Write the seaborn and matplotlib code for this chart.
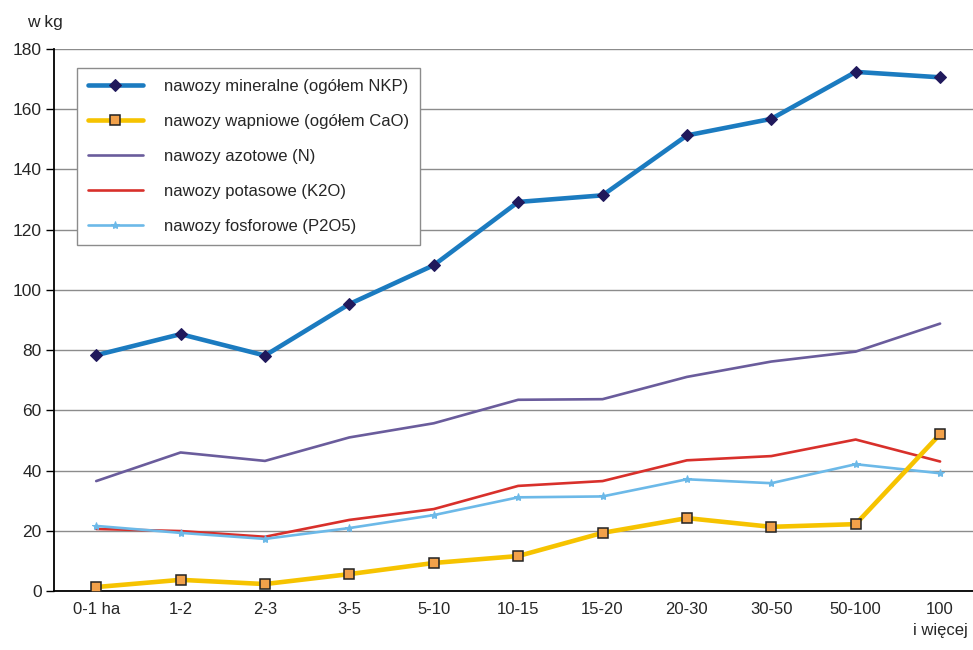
import numpy as np
import pandas as pd
import matplotlib
matplotlib.use('Agg')
import matplotlib.pyplot as plt
import seaborn as sns
from matplotlib.ticker import MultipleLocator, FixedLocator

categories = ['0-1 ha', '1-2', '2-3', '3-5', '5-10', '10-15', '15-20',
              '20-30', '30-50', '50-100', '100\ni więcej']

nkp = [78.3, 85.3, 78.2, 95.3, 108.2, 129.2, 131.4, 151.3, 156.8, 172.4, 170.6]
cao = [1.3, 3.7, 2.3, 5.6, 9.3, 11.6, 19.3, 24.2, 21.3, 22.2, 52.1]
azot = [36.5, 46.0, 43.2, 51.0, 55.7, 63.5, 63.7, 71.1, 76.2, 79.5, 88.8]
potas = [20.6, 19.9, 18.0, 23.6, 27.2, 34.9, 36.5, 43.4, 44.8, 50.3, 43.0]
fosfor = [21.6, 19.3, 17.3, 20.9, 25.2, 31.1, 31.4, 37.1, 35.8, 42.1, 39.1]

series_names = ['nawozy mineralne (ogółem NKP)', 'nawozy wapniowe (ogółem CaO)',
                'nawozy azotowe (N)', 'nawozy potasowe (K2O)', 'nawozy fosforowe (P2O5)']

sns.set_style('white')
plt.rcParams['font.family'] = ['Liberation Sans', 'DejaVu Sans']

x = np.arange(len(categories))

fig = plt.figure(figsize=(9.73, 6.5), dpi=100)
ax = fig.add_axes([0.0555, 0.0908, 0.9445, 0.8338])

ax.yaxis.grid(True, color='#8c8c8c', linewidth=1)
ax.set_axisbelow(True)

sns.lineplot(x=x, y=nkp, ax=ax, color='#1b7bc0', linewidth=3.3, marker='D',
             markersize=6.5, markerfacecolor='#20195c', markeredgecolor='#20195c',
             label=series_names[0], zorder=5)
sns.lineplot(x=x, y=cao, ax=ax, color='#f6c300', linewidth=3.3, marker='s',
             markersize=7.5, markerfacecolor='#f2a14a', markeredgecolor='#222222',
             markeredgewidth=1.1, label=series_names[1], zorder=5)
sns.lineplot(x=x, y=azot, ax=ax, color='#6a5c9c', linewidth=1.9,
             label=series_names[2], zorder=4)
sns.lineplot(x=x, y=potas, ax=ax, color='#d8302b', linewidth=1.9,
             label=series_names[3], zorder=4)
sns.lineplot(x=x, y=fosfor, ax=ax, color='#6cb9e8', linewidth=1.9, marker='*',
             markersize=6, markeredgecolor='#6cb9e8', markerfacecolor='#6cb9e8',
             label=series_names[4], zorder=4)

ax.set_ylim(0, 180)
ax.set_xlim(-0.5, 10.39)
ax.yaxis.set_major_locator(MultipleLocator(20))
ax.set_xticks(x)
ax.set_xticklabels(categories, fontsize=12, linespacing=1.5)
ax.xaxis.set_minor_locator(FixedLocator(np.arange(-0.5, 11, 1)))
ax.tick_params(axis='x', which='major', length=0, pad=8)
ax.tick_params(axis='x', which='minor', length=5, width=1, color='black', direction='out')
ax.tick_params(axis='y', length=6, width=1, color='black', direction='out',
               labelsize=12.5, pad=3, left=True)

for s in ['top', 'right']:
    ax.spines[s].set_visible(False)
for s in ['left', 'bottom']:
    ax.spines[s].set_color('black')
    ax.spines[s].set_linewidth(1.3)

ax.set_xlabel('')
ax.set_ylabel('')

leg = ax.legend(loc='upper left', bbox_to_anchor=(0.025, 0.965), fontsize=12,
                handlelength=3.3, handletextpad=1.3, labelspacing=1.2,
                borderpad=0.65, borderaxespad=0, frameon=True, fancybox=False,
                framealpha=1)
leg.get_frame().set_edgecolor('#8c8c8c')
leg.get_frame().set_linewidth(1)

fig.text(0.028, 0.966, 'w kg', fontsize=12.5, ha='left', va='center')

fig.savefig('out.png', dpi=100)
